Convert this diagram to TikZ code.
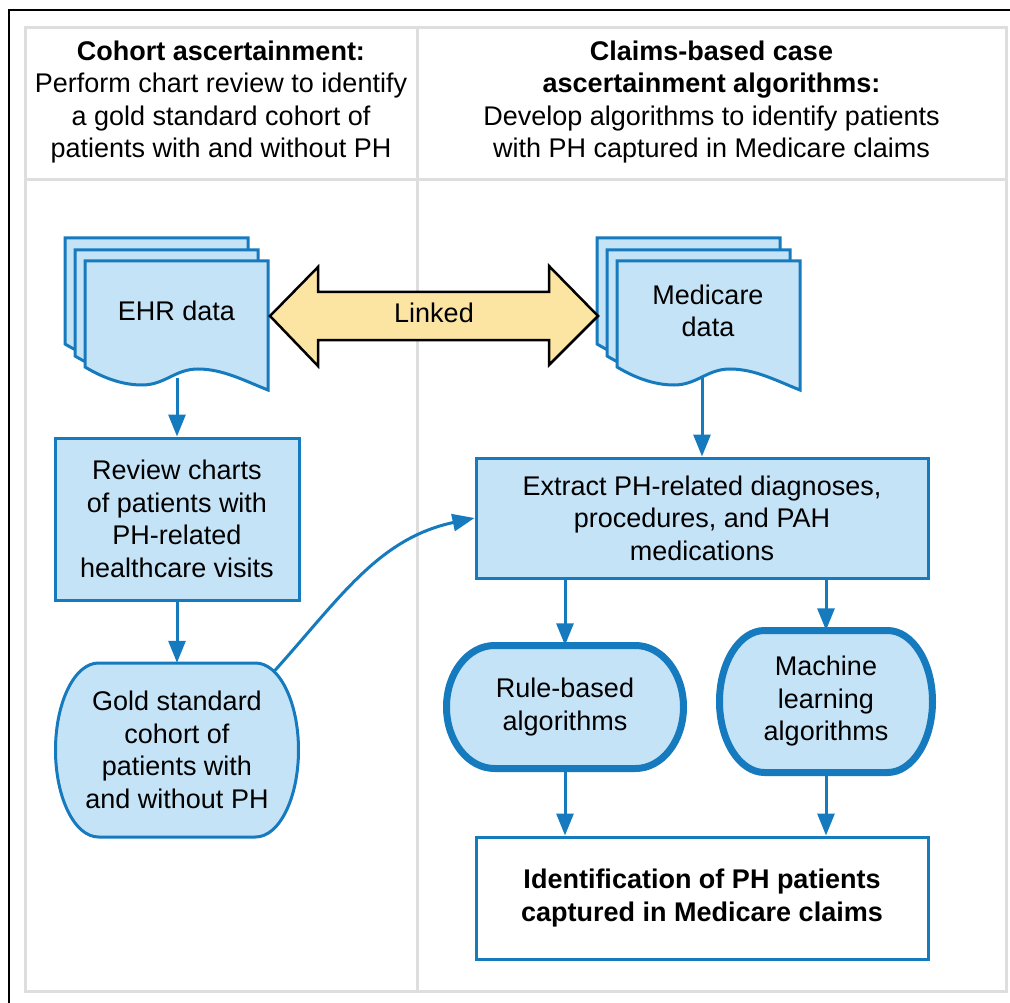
\documentclass[tikz,border=0pt]{standalone}
\usepackage{fontspec}
\setmainfont{Liberation Sans}
\usetikzlibrary{arrows.meta}
\definecolor{flowblue}{RGB}{22,122,190}
\definecolor{paleblue}{RGB}{197,227,246}
\definecolor{linkyellow}{RGB}{252,229,162}
\definecolor{panelgray}{RGB}{222,222,222}
\tikzset{
  txt/.style={font=\fontsize{27}{32.5}\selectfont, align=center, inner sep=0pt},
  procbox/.style={txt, draw=flowblue, fill=paleblue, line width=3pt},
  endbox/.style={txt, draw=flowblue, fill=white, line width=3pt, font=\fontsize{27}{32.5}\selectfont\bfseries},
  pageline/.style={draw=flowblue, fill=paleblue, line width=3pt},
  capline/.style={draw=flowblue, fill=paleblue, line width=3pt},
  thickcap/.style={capline, line width=7pt},
  flow/.style={draw=flowblue, line width=3pt, -{Triangle[length=22pt,width=17pt]}},
  linkarrow/.style={draw=black, fill=linkyellow, line width=2.5pt},
  panel/.style={draw=panelgray, line width=3pt}
}
\newcommand{\docpage}[2]{%
  \draw[pageline] (#1,-#2) -- ({#1+183},-#2) -- ({#1+183},{-#2-129})
    .. controls ({#1+160},{-#2-120}) and ({#1+138},{-#2-108}) .. ({#1+113},{-#2-108})
    .. controls ({#1+90},{-#2-108}) and ({#1+80},{-#2-124}) .. ({#1+57},{-#2-124})
    .. controls ({#1+35},{-#2-124}) and ({#1+15},{-#2-115}) .. (#1,{-#2-106}) -- cycle;}
\newcommand{\capshape}[6]{%
  \draw[#1] ({#2-#4/2+#6},{-#3+#5/2}) -- ({#2+#4/2-#6},{-#3+#5/2})
    arc[start angle=90,end angle=-90,x radius=#6,y radius=#5/2]
    -- ({#2-#4/2+#6},{-#3-#5/2})
    arc[start angle=270,end angle=90,x radius=#6,y radius=#5/2] -- cycle;}
\begin{document}
\begin{tikzpicture}[x=1pt,y=1pt]
\useasboundingbox (0,0) rectangle (1010,-1003);
\draw[line width=2.5pt] (9,-1020) -- (9,-10) -- (1030,-10);
\draw[panel] (25,-28) rectangle (1006,-991);
\draw[panel] (25,-180) -- (1006,-180);
\draw[panel] (417,-28) -- (417,-991);
\node[txt] (cohorthead) at (221,-102) {\textbf{Cohort ascertainment:}\\Perform chart review to identify\\a gold standard cohort of\\patients with and without PH};
\node[txt] (claimshead) at (711.5,-102) {\textbf{Claims-based case}\\\textbf{ascertainment algorithms:}\\Develop algorithms to identify patients\\with PH captured in Medicare claims};
\foreach \px/\py in {65/238,75/250,85/261} \docpage{\px}{\py};
\foreach \px/\py in {597/238,607/250,617/261} \docpage{\px}{\py};
\node[txt] (ehr) at (176.5,-311) {EHR data};
\node[txt] (medicare) at (708,-311) {Medicare\\data};
\coordinate (ehr-foot) at (177,-378);
\coordinate (medicare-foot) at (702,-378);
\draw[linkarrow] (270,-316) -- (318,-267) -- (318,-292) -- (549,-292) -- (549,-266)
  -- (598,-316) -- (549,-365) -- (549,-340) -- (318,-340) -- (318,-366) -- cycle;
\node[txt] (linked) at (434,-313) {Linked};
\node[procbox, minimum width=244, minimum height=162] (review) at (177,-519) {Review charts\\of patients with\\PH-related\\healthcare visits};
\capshape{capline}{177}{750}{243}{174}{43}
\node[txt, minimum width=243, minimum height=174] (gold) at (177,-750) {Gold standard\\cohort of\\patients with\\and without PH};
\node[procbox, minimum width=452, minimum height=120] (extract) at (702,-518) {Extract PH-related diagnoses,\\procedures, and PAH\\medications};
\capshape{thickcap}{565}{707}{237}{123}{48}
\node[txt, minimum width=237, minimum height=123] (rule) at (565,-707) {Rule-based\\algorithms};
\capshape{thickcap}{826}{701.5}{213}{142}{45}
\node[txt, minimum width=213, minimum height=142] (mlearn) at (826,-701.5) {Machine\\learning\\algorithms};
\node[endbox, minimum width=452, minimum height=122] (ident) at (702,-898) {Identification of PH patients\\captured in Medicare claims};
\draw[flow] (ehr-foot) -- (review);
\draw[flow] (review) -- (gold);
\draw[flow] (medicare-foot) -- (extract);
\draw[flow] ([xshift=-25pt,yshift=-9pt]gold.north east) to[out=48,in=192] (extract.west);
\draw[flow] (extract.south -| rule.north) -- (rule);
\draw[flow] (extract.south -| mlearn.north) -- (mlearn);
\draw[flow] (rule) -- (ident.north -| rule.south);
\draw[flow] (mlearn) -- (ident.north -| mlearn.south);
\end{tikzpicture}
\end{document}
